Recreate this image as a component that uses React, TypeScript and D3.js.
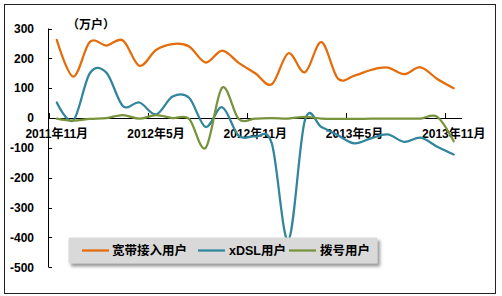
import React from "react";
import * as d3 from "d3";

const months: string[] = [
  "2011年11月", "2011年12月", "2012年1月", "2012年2月", "2012年3月", "2012年4月",
  "2012年5月", "2012年6月", "2012年7月", "2012年8月", "2012年9月", "2012年10月",
  "2012年11月", "2012年12月", "2013年1月", "2013年2月", "2013年3月", "2013年4月",
  "2013年5月", "2013年6月", "2013年7月", "2013年8月", "2013年9月", "2013年10月",
  "2013年11月",
];

const broadband: number[] = [262, 139, 255, 243, 260, 175, 228, 248, 240, 186, 226, 185, 150, 113, 217, 153, 254, 132, 142, 161, 169, 147, 170, 131, 100];
const xdsl: number[] = [52, -8, 150, 152, 40, 52, 12, 72, 68, -30, 36, -60, -62, -85, -410, -8, -30, -58, -85, -68, -55, -80, -66, -96, -122];
const dialup: number[] = [-2, -9, -3, 0, 10, -2, 10, 0, -3, -100, 102, -3, -2, 0, -2, 4, -2, -3, -3, -2, -2, -2, -2, 4, -78];

const yTicks: number[] = [300, 200, 100, 0, -100, -200, -300, -400, -500];
const xLabelMonths: string[] = ["2011年11月", "2012年5月", "2012年11月", "2013年5月", "2013年11月"];

const seriesNames: string[] = ["宽带接入用户", "xDSL用户", "拨号用户"];
const seriesColors: string[] = ["#E46C0A", "#31859C", "#77933C"];

const unitLabel = "（万户）";

const W = 502;
const H = 296;
const FONT = "'Liberation Sans', Arial, 'Noto Sans CJK SC', sans-serif";

export default function App() {
  const x = d3.scaleBand<string>().domain(months).range([48.5, 462]).paddingInner(0).paddingOuter(0);
  const y = d3.scaleLinear().domain([-500, 300]).range([267.2, 28.5]);
  const cx = (m: string) => (x(m) as number) + x.bandwidth() / 2;

  const line = d3
    .line<number>()
    .x((_, i) => cx(months[i]))
    .y((d) => y(d))
    .curve(d3.curveCardinal.tension(0));

  const data = [broadband, xdsl, dialup];

  const legendItems = [
    { lx: 82, tx: 112 },
    { lx: 198, tx: 229 },
    { lx: 289, tx: 320 },
  ];

  return (
    <svg
      width={W}
      height={H}
      style={{ position: "absolute", left: 0, top: 0, fontFamily: FONT }}
    >
      <defs>
        <filter id="legShadow" x="-10%" y="-30%" width="130%" height="180%">
          <feDropShadow dx="2.5" dy="3" stdDeviation="1.6" floodColor="#777" floodOpacity="0.75" />
        </filter>
      </defs>
      <rect x={0} y={0} width={W} height={H} fill="#fff" />
      <rect x={4.5} y={4.5} width={491} height={289} fill="#fff" stroke="#222" strokeWidth={1} />

      {/* y axis */}
      <line x1={48.5} x2={48.5} y1={y(300)} y2={y(-500)} stroke="#000" strokeWidth={1} />
      {yTicks.map((t) => (
        <g key={t}>
          <line x1={48.5} x2={52} y1={Math.round(y(t)) + 0.5} y2={Math.round(y(t)) + 0.5} stroke="#000" />
          <text x={34} y={y(t)} dy="0.36em" textAnchor="end" fontSize={12} fontWeight="bold" fill="#000">
            {t}
          </text>
        </g>
      ))}
      <text x={67} y={25} dy="0.36em" fontSize={12} fontWeight="bold" fill="#000">
        {unitLabel}
      </text>

      {/* x axis */}
      <line x1={48.5} x2={462} y1={Math.round(y(0)) + 0.5} y2={Math.round(y(0)) + 0.5} stroke="#000" />
      {xLabelMonths.map((m) => {
        const tx = Math.round(x(m) as number) + 0.5;
        return (
          <g key={m}>
            <line x1={tx} x2={tx} y1={y(0) - 5} y2={y(0)} stroke="#000" />
            <text x={cx(m)} y={133.5} dy="0.36em" textAnchor="middle" fontSize={12} fontWeight="bold" fill="#000">
              {m}
            </text>
          </g>
        );
      })}

      {/* series */}
      {data.map((s, k) => (
        <path
          key={k}
          d={line(s) || ""}
          fill="none"
          stroke={seriesColors[k]}
          strokeWidth={2.25}
          strokeLinejoin="round"
          strokeLinecap="round"
        />
      ))}

      {/* legend */}
      <rect x={68.5} y={237.5} width={309} height={26} fill="#d9d9d9" filter="url(#legShadow)" />
      {seriesNames.map((n, k) => (
        <g key={n}>
          <line
            x1={legendItems[k].lx}
            x2={legendItems[k].lx + 27}
            y1={250.5}
            y2={250.5}
            stroke={seriesColors[k]}
            strokeWidth={2.25}
          />
          <text x={legendItems[k].tx} y={250.5} dy="0.36em" fontSize={12.5} fontWeight="bold" fill="#000">
            {n}
          </text>
        </g>
      ))}
    </svg>
  );
}
